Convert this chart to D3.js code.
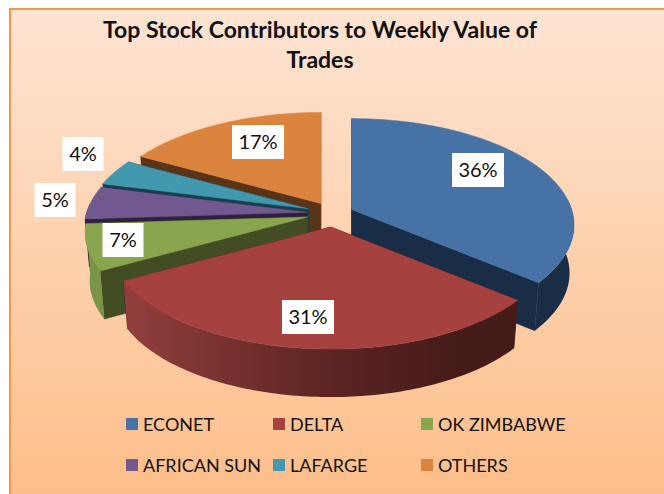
<!DOCTYPE html>
<html><head><meta charset="utf-8">
<script src="https://cdn.jsdelivr.net/npm/d3@7"></script>
<style>html,body{margin:0;padding:0;background:#fff}svg{display:block}text{font-family:Lato,"Open Sans",sans-serif;fill:#111}</style>
</head><body><div id="c"></div>
<script>
const categories = ["ECONET","DELTA","OK ZIMBABWE","AFRICAN SUN","LAFARGE","OTHERS"];
const shares = [36,31,7,5,4,17];
const titleLines = ["Top Stock Contributors to Weekly Value of","Trades"];
const topColors = ["#4672a6","#a5413f","#89a54e","#71588f","#4198af","#db843d"];
const cutColors = ["#1a2d47","#431a18","#424d23","#2e213d","#173f4b","#5a3417"];
const wallColors = ["#1a2d47","url(#redWall)","#7a9547","#2e213d","#173f4b","#5a3417"];
const explode = [20,29,27,27,27,25];
const labelCentres = [[478,170],[308,317],[258,142],[123,240],[83,154],[55,200]].slice(0,4).concat([[55,200],[83,154]]).map((d,i)=>i===2?[123,240]:i===3?[55,200]:i===4?[83,154]:i===5?[258,142]:d);
const legendCols=[126,273,421], legendRows=[418,459];

const W=664,H=494;
const cx=333.5, cy=213.5, R=220, RY=104.2, K=0.146, DEPTH=48, SHRINK=0.98;
const svg=d3.select("#c").append("svg").attr("width",W).attr("height",H);
const defs=svg.append("defs");
const bg=defs.append("linearGradient").attr("id","bg").attr("x1",0).attr("y1",0).attr("x2",0).attr("y2",1);
bg.append("stop").attr("offset",0).attr("stop-color","#fee4d3");
bg.append("stop").attr("offset",1).attr("stop-color","#fdbd87");
const rw=defs.append("linearGradient").attr("id","redWall").attr("gradientUnits","userSpaceOnUse").attr("x1",120).attr("y1",0).attr("x2",520).attr("y2",0);
rw.append("stop").attr("offset",0).attr("stop-color","#93403e");
rw.append("stop").attr("offset",0.5).attr("stop-color","#5e2523");
rw.append("stop").attr("offset",0.85).attr("stop-color","#451b19");
svg.append("rect").attr("x",10).attr("y",9).attr("width",W+10).attr("height",H+10)
  .attr("fill","url(#bg)").attr("stroke","#f79646").attr("stroke-width",2);

const slices=d3.pie().sort(null).value(d=>d).startAngle(0).endAngle(2*Math.PI)(shares);
function rel(a,r=1){const u=Math.sin(a)*r,v=-Math.cos(a)*r,s=1/(1-K*v);return [R*u*s,RY*v*s];}
function apexOf(i){const s=slices[i],m=(s.startAngle+s.endAngle)/2,e=explode[i];
  return [cx+Math.sin(m)*e, cy-Math.cos(m)*e*0.47];}
const line=d3.line();
function arcPts(a0,a1,ap){const n=Math.max(2,Math.ceil((a1-a0)/0.02));
  return d3.range(n+1).map(k=>{const a=a0+(a1-a0)*k/n,p=rel(a);return [ap[0]+p[0],ap[1]+p[1]];});}
const drop=(p,ap)=>[ap[0]+(p[0]-ap[0])*SHRINK,p[1]+DEPTH];
const order=[5,4,3,2,0,1];
const g=svg.append("g");
const lo=85*Math.PI/180, hi=275*Math.PI/180;
order.forEach(i=>{
  const s=slices[i],ap=apexOf(i),a0=s.startAngle,a1=s.endAngle;
  const c0=arcPts(a0,a0,ap)[0], c1=arcPts(a1,a1,ap)[0];
  const quad=(p,f)=>g.append("path").attr("d",line([ap,p,drop(p,ap),[ap[0],ap[1]+DEPTH]])+"Z").attr("fill",f).attr("stroke",f).attr("stroke-width",0.5);
  quad(c0,cutColors[i]); quad(c1,cutColors[i]);
  const wa0=Math.max(a0,lo), wa1=Math.min(a1,hi);
  if(wa1>wa0){const t=arcPts(wa0,wa1,ap);
    g.append("path").attr("d",line(t.concat(t.map(p=>drop(p,ap)).reverse()))+"Z").attr("fill",wallColors[i]).attr("stroke","none");}
  g.append("path").attr("d",line([ap].concat(arcPts(a0,a1,ap)))+"Z").attr("fill",topColors[i]).attr("stroke",topColors[i]).attr("stroke-width",0.5);
});
const tx=svg.append("g").attr("text-anchor","middle").attr("font-weight",700).attr("font-size",23);
titleLines.forEach((t,i)=>tx.append("text").attr("x",320).attr("y",38+i*30).text(t));
const lb=svg.append("g");
shares.forEach((v,i)=>{const [x,y]=labelCentres[i];
  const w=v>=10?52:41;
  lb.append("rect").attr("x",x-w/2).attr("y",y-17).attr("width",w).attr("height",34).attr("fill","#fff");
  lb.append("text").attr("x",x).attr("y",y+7).attr("text-anchor","middle").attr("font-size",20).text(v+"%");
});
const lg=svg.append("g");
categories.forEach((c,i)=>{const col=i%3,row=i<3?0:1,x=legendCols[col],y=legendRows[row];
  lg.append("rect").attr("x",x).attr("y",y).attr("width",12).attr("height",12).attr("fill",topColors[i]);
  lg.append("text").attr("x",x+17).attr("y",y+13).attr("font-size",18).text(c);
});
</script></body></html>
